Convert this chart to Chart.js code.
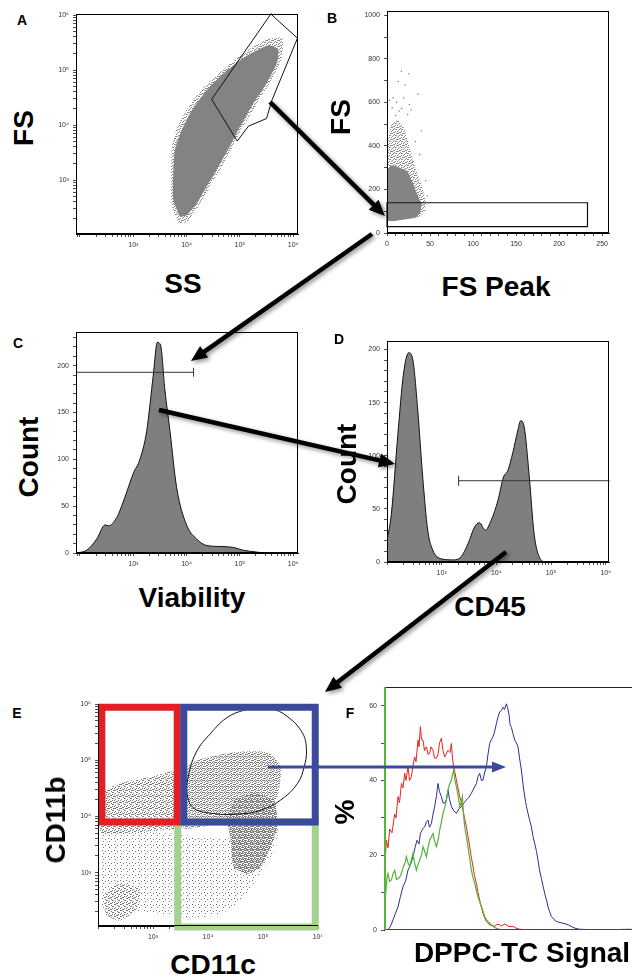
<!DOCTYPE html>
<html><head><meta charset="utf-8">
<script src="https://cdn.jsdelivr.net/npm/chart.js@4"></script>
<style>
html,body{margin:0;padding:0;background:#fff;width:632px;height:977px;overflow:hidden;position:relative;}
canvas{position:absolute;}
.t{position:absolute;font-family:"Liberation Sans",Arial,sans-serif;font-weight:bold;color:#000;white-space:nowrap;transform:translate(-50%,-50%);line-height:1;}
.big{font-size:28px;}
.rot{transform:translate(-50%,-50%) rotate(-90deg);}
.let{font-size:14px;}
</style></head><body>
<script>
// ================= DATA =================
const logTickExps = [3, 4, 5, 6];
const logTickLabels = ['10³', '10⁴', '10⁵', '10⁶'];
const fsPeakTickLabels = [0, 50, 100, 150, 200, 250];
const fsTickLabels = [0, 200, 400, 600, 800, 1000];
const countTickLabelsC = [0, 50, 100, 150, 200];
const countTickLabelsD = [0, 50, 100, 150, 200];
const pctTickLabels = [0, 20, 40, 60];

// Panel A: SS vs FS (values read as log10 exponents)
const ssFsCoreLog = [[3.88,2.33],[3.75,2.64],[3.75,3.12],[3.78,3.55],[3.91,3.91],[4.10,4.27],[4.38,4.64],[4.69,4.94],[5.00,5.18],[5.32,5.36],[5.56,5.45],[5.72,5.36],[5.69,5.12],[5.50,4.76],[5.25,4.39],[5.00,3.97],[4.81,3.61],[4.63,3.30],[4.41,2.94],[4.19,2.58],[4.00,2.36]];
const ssFsHaloLog = [[3.86,2.2],[3.72,2.55],[3.72,3.55],[3.82,3.95],[4.05,4.35],[4.35,4.72],[4.7,5.02],[5.0,5.26],[5.3,5.45],[5.55,5.57],[5.8,5.58],[5.78,5.2],[5.58,4.8],[5.32,4.39],[5.05,3.95],[4.86,3.6],[4.68,3.28],[4.45,2.9],[4.22,2.52],[4.02,2.25]];
const ssFsGateLog = [[5.58,6.02],[6.08,5.58],[5.60,4.45],[5.50,4.12],[5.16,3.98],[4.95,3.71],[4.47,4.47]];

// Panel B: FS Peak vs FS
const fsPeakCore = [[1,55],[1,290],[5,310],[15,300],[24,280],[30,230],[35,180],[40,130],[38,90],[32,70],[20,62],[8,55]];
const fsPeakHalo = [[0.5,55],[0.5,400],[5,500],[12,520],[20,480],[26,400],[33,300],[40,220],[45,150],[44,100],[38,75]];
const fsPeakSparse = [[16.6,743],[25.5,732],[12.8,696],[19.4,620],[36,638],[7,621],[17,572],[28,566],[10,540],[24,545],[33,420],[3,610],[30,330],[47,170],[40,470],[21,680],[11,600],[26,590],[14,560],[6,575],[45,240],[38,360]];
const fsPeakGate = [[0,29],[233,29],[233,139],[0,139]];

// Panel C: Viability histogram
const viabilityX = [84,134,206,295,340,490,700,1000,1330,1780,2370,2820,3250,3900,4880,6500,10000,15400,24000,42500,75000,115000,205000,316000,1230000];
const viabilityCount = [0,3,15,30,29,38,60,85,100,130,190,225,222,175,130,70,30,15,8,7,6,3,1,0,0];
const viabilityGate = [84, 13500];
const viabilityGateLevel = 193;

// Panel D: CD45 histogram
const cd45X = [100,120,158,200,250,295,365,450,555,690,980,1590,2270,3020,4000,4900,6300,8000,10700,13500,16200,20000,24700,27800,32300,39600,48900,60700,81000,1150000];
const cd45Count = [20,45,120,177,197,191,143,80,30,11,3,2,5,17,33,37,30,39,58,80,86,103,124,133,127,83,27,5,0,0];
const cd45Gate = [2040, 1150000];
const cd45GateLevel = 76.5;

// Panel E: CD11c vs CD11b (log10 exponents)
const cd11SparseLog = [[2.05,3.76],[3.3,3.7],[4.3,3.6],[5.26,3.81],[5.2,3.4],[4.9,2.9],[4.6,2.5],[4.2,2.25],[3.6,2.2],[2.9,2.3],[2.05,2.4]];
const cd11BandLeftLog = [[2.05,4.40],[2.35,4.58],[2.96,4.70],[3.50,4.80],[3.56,3.80],[3.26,3.76],[2.65,3.72],[2.05,3.72]];
const cd11BandRightLog = [[3.56,4.85],[3.87,5.02],[4.47,5.14],[5.08,5.14],[5.32,4.89],[5.26,4.35],[4.96,4.11],[4.47,3.93],[3.87,3.81],[3.56,3.80]];
const cd11BlobLog = [[4.47,4.29],[4.84,4.41],[5.20,4.29],[5.26,3.81],[5.14,3.46],[4.96,3.10],[4.72,2.98],[4.47,3.10],[4.41,3.58],[4.35,3.99]];
const cd11ClusterLog = [[2.1,2.6],[2.4,2.8],[2.75,2.7],[2.7,2.35],[2.4,2.15],[2.15,2.25]];
const cd11EllipseLog = [[4.78,5.93],[5.14,5.92],[5.44,5.78],[5.72,5.48],[5.79,5.18],[5.75,4.89],[5.63,4.59],[5.32,4.29],[4.96,4.11],[4.54,4.04],[4.11,4.05],[3.75,4.14],[3.63,4.35],[3.63,4.65],[3.78,5.13],[4.05,5.48],[4.38,5.78]];
const redGateLog = [[2.07,3.90],[3.44,3.90],[3.44,5.94],[2.07,5.94]];
const blueGateLog = [[3.56,3.90],[5.95,3.90],[5.95,5.94],[3.56,5.94]];
const greenGateLog = [[3.45,2.03],[5.95,2.03],[5.95,3.90],[3.45,3.90]];

// Panel F: DPPC-TC signal histograms [channel, %]
const dppcRed = [[0,0],[0.5,16],[2.4,24],[4,22],[5.7,27],[8,26],[10.7,31],[12,30],[14,35.7],[15.5,34],[17.4,39.2],[19,38],[20.7,41.9],[22,40],[24,43.7],[25.5,40],[27.4,41],[29,44],[30.7,46.3],[32,45],[34,50.8],[35,49],[36.4,54.4],[37.5,51],[39,50.8],[40.5,48],[42.4,49],[44,47],[45.7,47.3],[47,49],[49,48.1],[50.5,46],[52.4,45.9],[54,47],[55.5,50],[57.4,51.3],[59,48],[60.7,46.3],[62,47],[64,48.1],[66,47.5],[67.4,49.9],[68.5,46],[69.7,43.7],[71,42],[72.4,40.1],[74,38],[75.7,35.7],[77,34.5],[79,32.1],[80.5,30],[82.4,27.6],[84,25],[85.7,22.3],[87,20],[89,16.9],[90.5,14.5],[92.4,12.5],[94,10],[95.7,8],[97,6.5],[99,4.5],[101,3],[102.4,2.3],[104,1.8],[105.7,1.4],[108,1.2],[110.7,1],[113,1.5],[115.7,1.4],[118,1],[120,1.6],[122.4,1.4],[125,0.9],[129,1],[132,0.5],[135.7,0.2],[140,0.1],[145.7,0],[250,0]];
const dppcGreen = [[0,0],[0.5,10],[1.7,9.8],[3,14],[4,15.1],[5.5,13],[7.4,13.4],[9,15],[10.7,16],[12.5,13.5],[14,13.8],[15.5,14],[17.4,15.1],[19.5,17],[21,18],[22.4,19.6],[24,18],[25.7,17],[27.5,19],[29,20.5],[30.5,18],[32.4,16],[34,17.5],[35.7,18.7],[37.5,20],[39,22.3],[40.7,21],[42.4,19.6],[44,22],[45.7,24],[47.5,25],[49,25.8],[50.5,24],[52.4,22.3],[54,24],[55.7,26.7],[57.5,29],[59,31.2],[61,33],[62.5,35],[64,37.4],[65.5,39],[67.4,40.1],[68.5,41.5],[69.7,42.8],[71,40],[72.4,38.3],[74,36],[75.7,33],[77,34],[78.4,35.7],[79.5,31],[80.7,27.6],[82.4,25],[84,22.3],[85.7,19],[87.4,16],[89,14],[90.7,12.5],[92.4,10.5],[94,8.9],[95.7,7.5],[97.4,6.2],[99,5],[100.7,3.6],[102.4,2.8],[104,2.3],[106.5,1.6],[109,1],[112,0.5],[115.7,0.2],[125.7,0],[250,0]];
const dppcBlue = [[4,0],[6.5,1],[9,2.7],[11.5,4.5],[14,6.2],[16.5,9],[19,11.6],[21.5,13],[24,16],[26.5,17.5],[29,19.6],[31,22],[33,24],[35,23],[36.4,25.8],[38.5,27],[40.7,27.6],[42.5,29],[44,29.4],[45.5,27.5],[47.4,28.5],[49,31],[50.7,33],[52.5,36],[54,39.2],[55.5,37],[57.4,35.7],[59,34],[60.7,33.9],[62.5,35],[64,37.4],[65.5,35],[67.4,33],[69.5,32],[72.4,31.2],[75,32.5],[77.4,33],[80,34],[82.4,34.8],[85,35.5],[87.4,36.6],[90,38],[92.4,39.2],[94,41],[95.7,41.9],[97.5,40],[99,40.1],[100.5,42],[102.4,43.7],[104,47],[105.7,49.9],[107.5,51],[109,51.7],[110.5,53],[112.4,55.2],[114,57],[115.7,58.3],[117.5,58.8],[119,59.6],[120.5,59],[122.4,60.5],[123.5,59.5],[125,57.7],[126,55],[127.4,54.2],[129,52.5],[130.7,50.8],[132.5,50],[134,49],[135.5,46],[137.4,42.8],[139,39],[140.7,35.7],[142.5,33],[144,31.2],[145.5,29.5],[147.4,27.6],[149,25],[150.7,23.2],[152.5,21],[154,18.7],[155.5,16],[157.4,13.8],[159,11.8],[160.7,9.8],[162.5,8],[164,6.2],[165.5,5],[167.4,3.6],[170,2.8],[172.4,2.3],[176,2],[179,1.8],[182,1.6],[184,1.4],[187,1],[189,0.7],[192,0.4],[195.7,0.2],[205,0.1],[212.4,0],[230,0.1],[245.7,0.2],[250,0.1]];

// ================= LAYOUT (annotations) =================
const arrows = [
  {from:[270,102], to:[385,216], color:'#000', w:4.5, head:16, hw:7, shadow:true},
  {from:[372,234], to:[191,361], color:'#000', w:4.5, head:16, hw:7, shadow:true},
  {from:[159,410], to:[395,464], color:'#000', w:4.5, head:16, hw:7, shadow:true},
  {from:[506,552], to:[325,692], color:'#000', w:4.5, head:16, hw:7, shadow:true},
  {from:[268,767], to:[506,767], color:'#3b4a9c', w:3.2, head:14, hw:5.5, shadow:false}
];
const texts = [
  ['A',22,20,'let',false],['FS',24,128,'big',true],['SS',183,284,'big',false],
  ['B',332,18,'let',false],['FS',341,117,'big',true],['FS Peak',496,287,'big',false],
  ['C',18,343,'let',false],['Count',29,457,'big',true],['Viability',192,598,'big',false],
  ['D',339,339,'let',false],['Count',347,464,'big',true],['CD45',490,607,'big',false],
  ['E',17,713,'let',false],['CD11b',56,820,'big',true],['CD11c',213,965,'big',false],
  ['F',350,713,'let',false],['%',345,812,'big',true],['DPPC-TC Signal',522,953,'big',false]
];
// fixed stipple layout inside a 6x6 tile (texture for dense dot clouds)
const stippleOrder = [[0,0],[3,1],[1,3],[4,4],[2,5],[5,2],[1,0],[4,2],[0,4],[3,5],[5,0],[2,2],[0,2],[3,3],[5,4],[1,5],[4,0],[2,1],[0,5],[5,3],[2,3],[4,5],[1,2],[3,0]];

// ================= HELPERS =================
const pts = a => a.map(([x, y]) => ({x, y}));
const logPts = a => a.map(([x, y]) => ({x: Math.pow(10, x), y: Math.pow(10, y)}));
const closed = a => a.concat([a[0]]);
const zip = (xs, ys) => xs.map((x, i) => ({x, y: ys[i]}));
const TICKFONT = {family: 'Liberation Sans, DejaVu Sans, sans-serif', size: 7};

function stipple(n, color) {
  const t = document.createElement('canvas'); t.width = 6; t.height = 6;
  const c = t.getContext('2d'); c.fillStyle = color;
  stippleOrder.slice(0, n).forEach(([x, y]) => c.fillRect(x, y, 1, 1));
  return c.createPattern(t, 'repeat');
}
function logTickList(min, max) {
  const out = [];
  for (let e = Math.floor(Math.log10(min)); e <= Math.ceil(Math.log10(max)); e++)
    for (let m = 1; m < 10; m++) { const v = m * Math.pow(10, e); if (v >= min * 0.9999 && v <= max * 1.0001) out.push({value: v}); }
  return out;
}
function logLabel(v) {
  const e = Math.log10(v), r = Math.round(e);
  if (Math.abs(e - r) < 1e-6) { const i = logTickExps.indexOf(r); return i >= 0 ? logTickLabels[i] : ''; }
  return '';
}
function linTickList(min, max, step) {
  const out = []; for (let v = min; v <= max + 1e-9; v += step) out.push({value: v}); return out;
}

function scale(axis, type, min, max, step, labels, YW, XH, extra) {
  const s = {
    type, min, max, position: axis === 'x' ? 'bottom' : 'left',
    afterBuildTicks: sc => { sc.ticks = type === 'logarithmic' ? logTickList(min, max) : linTickList(0, max, step); },
    afterFit: sc => {
      if (axis === 'x') { sc.height = XH; sc.paddingLeft = 0; sc.paddingRight = 0; }
      else { sc.width = YW; sc.paddingTop = 0; sc.paddingBottom = 0; }
    },
    grid: {display: true, drawOnChartArea: false, drawTicks: true, tickLength: 3, color: '#222', lineWidth: 0.8},
    border: {display: true, color: '#000', width: 1},
    ticks: {autoSkip: false, maxRotation: 0, minRotation: 0, padding: 4, font: TICKFONT, color: '#333',
      callback: v => type === 'logarithmic' ? logLabel(v) : (labels.indexOf(v) >= 0 ? String(v) : '')}
  };
  return Object.assign(s, extra || {});
}

const framePlugin = {
  id: 'frame',
  afterDatasetsDraw(ch, args, o) {
    const {left, top, right, bottom} = ch.chartArea, c = ch.ctx;
    (o.sides || []).forEach(sd => {
      c.save(); c.strokeStyle = sd.color || '#000'; c.lineWidth = sd.w || 1; c.beginPath();
      if (sd.s === 't') { c.moveTo(left, top + 0.5); c.lineTo(right, top + 0.5); }
      if (sd.s === 'r') { c.moveTo(right - 0.5, top); c.lineTo(right - 0.5, bottom); }
      if (sd.s === 'b') { c.moveTo(left, bottom - 0.5); c.lineTo(right, bottom - 0.5); }
      if (sd.s === 'l') { c.moveTo(left + 0.5 * (sd.w || 1), top); c.lineTo(left + 0.5 * (sd.w || 1), bottom); }
      c.stroke(); c.restore();
    });
  }
};
const box4 = [{s:'t'},{s:'r'},{s:'b'},{s:'l'}];

function panel(b, xs, ys, datasets, sides) {
  const YW = 32, XH = 20, PT = 4, PR = 4;
  const c = document.createElement('canvas');
  const w = b.R - b.L + YW + PR, h = b.B - b.T + PT + XH;
  c.width = w; c.height = h;
  c.style.left = (b.L - YW) + 'px'; c.style.top = (b.T - PT) + 'px';
  c.style.width = w + 'px'; c.style.height = h + 'px';
  document.body.appendChild(c);
  const n = datasets.length;
  datasets.forEach((d, i) => { d.order = n - i; });
  new Chart(c, {
    type: 'line',
    data: {datasets},
    options: {
      responsive: false, animation: false, events: [], devicePixelRatio: 1,
      layout: {padding: {top: PT, right: PR, left: 0, bottom: 0}},
      scales: {x: xs(YW, XH), y: ys(YW, XH)},
      plugins: {legend: {display: false}, tooltip: {enabled: false}, frame: {sides}},
      elements: {point: {radius: 0}}
    },
    plugins: [framePlugin]
  });
}
function poly(data, fillColor, tension) {
  return {data: closed(data), fill: 'shape', backgroundColor: fillColor, borderColor: 'rgba(0,0,0,0)', borderWidth: 0, pointRadius: 0, tension: tension === undefined ? 0.2 : tension};
}
function outline(data, color, width, tension, isClosed) {
  return {data: isClosed ? closed(data) : data, fill: false, borderColor: color, borderWidth: width, pointRadius: 0, tension: tension || 0, borderJoinStyle: 'miter', borderCapStyle: 'square', clip: false};
}
function hist(xs, ys) {
  return {data: zip(xs, ys), fill: 'origin', backgroundColor: '#7f7f7f', borderColor: '#111', borderWidth: 1, pointRadius: 0, cubicInterpolationMode: 'monotone'};
}

// ================= PANELS =================
// A
panel({L:76, T:14, R:298, B:234},
  (Y, X) => scale('x', 'logarithmic', Math.pow(10,1.925), Math.pow(10,6.09), 0, null, Y, X),
  (Y, X) => scale('y', 'logarithmic', Math.pow(10,2.02), Math.pow(10,6.02), 0, null, Y, X),
  [poly(logPts(ssFsHaloLog), stipple(12, '#8a8a8a')),
   poly(logPts(ssFsCoreLog), '#838383'),
   outline(logPts(ssFsGateLog), '#111', 1, 0, true)],
  box4);

// B
panel({L:387, T:11, R:609, B:233},
  (Y, X) => scale('x', 'linear', 0, 258, 10, fsPeakTickLabels, Y, X),
  (Y, X) => scale('y', 'linear', 0, 1020, 100, fsTickLabels, Y, X),
  [poly(pts(fsPeakHalo), stipple(12, '#8a8a8a')),
   poly(pts(fsPeakCore), '#848484'),
   {data: pts(fsPeakSparse), showLine: false, pointRadius: 0.8, pointBackgroundColor: '#888', pointBorderWidth: 0},
   outline(pts(fsPeakGate), '#111', 1.2, 0, true)],
  box4);

// C
panel({L:76, T:332, R:298, B:553},
  (Y, X) => scale('x', 'logarithmic', Math.pow(10,1.925), Math.pow(10,6.09), 0, null, Y, X),
  (Y, X) => scale('y', 'linear', 0, 236, 10, countTickLabelsC, Y, X),
  [hist(viabilityX, viabilityCount),
   outline([{x: viabilityGate[0], y: viabilityGateLevel}, {x: viabilityGate[1], y: viabilityGateLevel}], '#333', 1),
   outline([{x: viabilityGate[1], y: viabilityGateLevel - 4.5}, {x: viabilityGate[1], y: viabilityGateLevel + 4.5}], '#333', 1)],
  box4);

// D
panel({L:387, T:341, R:609, B:562},
  (Y, X) => scale('x', 'logarithmic', 100, Math.pow(10,6.06), 0, null, Y, X),
  (Y, X) => scale('y', 'linear', 0, 208, 10, countTickLabelsD, Y, X),
  [hist(cd45X, cd45Count),
   outline([{x: cd45Gate[0], y: cd45GateLevel}, {x: cd45Gate[1], y: cd45GateLevel}], '#333', 1),
   outline([{x: cd45Gate[0], y: cd45GateLevel - 4.5}, {x: cd45Gate[0], y: cd45GateLevel + 4.5}], '#333', 1)],
  box4);

// E
panel({L:98, T:704, R:318, B:926},
  (Y, X) => scale('x', 'logarithmic', 100, 1e6, 0, null, Y, X),
  (Y, X) => scale('y', 'logarithmic', Math.pow(10,2.05), 1e6, 0, null, Y, X),
  [poly(logPts(cd11SparseLog), stipple(3, '#777')),
   poly(logPts(cd11ClusterLog), stipple(10, '#777')),
   poly(logPts(cd11BandLeftLog), stipple(11, '#7a7a7a')),
   poly(logPts(cd11BandRightLog), stipple(14, '#7a7a7a')),
   poly(logPts(cd11BlobLog), stipple(22, '#7d7d7d')),
   outline(logPts(cd11EllipseLog), '#111', 1, 0.4, true),
   outline(logPts(greenGateLog), '#a5d18e', 7, 0, true),
   outline(logPts(redGateLog), '#e31e24', 7, 0, true),
   outline(logPts(blueGateLog), '#3b4a9c', 7, 0, true)],
  [{s:'l'}, {s:'b'}]);

// F
panel({L:384, T:687, R:634, B:930},
  (Y, X) => scale('x', 'linear', 0, 250, 10, [], Y, X, {grid: {display: false}, ticks: {display: false}, border: {display: false}}),
  (Y, X) => scale('y', 'linear', 0, 65, 10, pctTickLabels, Y, X),
  [{data: pts(dppcBlue), borderColor: '#2d2d96', borderWidth: 1, pointRadius: 0, fill: false, tension: 0},
   {data: pts(dppcRed), borderColor: '#e8231f', borderWidth: 1, pointRadius: 0, fill: false, tension: 0},
   {data: pts(dppcGreen), borderColor: '#55b43a', borderWidth: 1.2, pointRadius: 0, fill: false, tension: 0}],
  [{s:'t', color:'#222'}, {s:'b', color:'#444'}, {s:'l', color:'#55b43a', w:2}]);

// ================= TEXT =================
texts.forEach(([s, x, y, cls, rot]) => {
  const d = document.createElement('div');
  d.className = 't ' + cls + (rot ? ' rot' : '');
  d.textContent = s; d.style.left = x + 'px'; d.style.top = y + 'px';
  document.body.appendChild(d);
});

// ================= ARROWS OVERLAY =================
function drawArrow(ctx, a) {
  const [x1, y1] = a.from, [x2, y2] = a.to;
  const ang = Math.atan2(y2 - y1, x2 - x1);
  const bx = x2 - a.head * Math.cos(ang), by = y2 - a.head * Math.sin(ang);
  ctx.save();
  if (a.shadow) { ctx.shadowColor = 'rgba(0,0,0,0.45)'; ctx.shadowBlur = 4; ctx.shadowOffsetX = 2; ctx.shadowOffsetY = 2; }
  ctx.strokeStyle = a.color; ctx.fillStyle = a.color; ctx.lineWidth = a.w;
  ctx.beginPath(); ctx.moveTo(x1, y1); ctx.lineTo(bx + Math.cos(ang), by + Math.sin(ang)); ctx.stroke();
  ctx.beginPath(); ctx.moveTo(x2, y2);
  ctx.lineTo(bx + a.hw * Math.sin(ang), by - a.hw * Math.cos(ang));
  ctx.lineTo(bx - a.hw * Math.sin(ang), by + a.hw * Math.cos(ang));
  ctx.closePath(); ctx.fill();
  ctx.restore();
}
const ov = document.createElement('canvas');
ov.width = 632; ov.height = 977;
ov.style.left = '0px'; ov.style.top = '0px'; ov.style.width = '632px'; ov.style.height = '977px';
ov.style.zIndex = 10; ov.style.pointerEvents = 'none';
document.body.appendChild(ov);
new Chart(ov, {
  type: 'scatter', data: {datasets: []},
  options: {responsive: false, animation: false, events: [], devicePixelRatio: 1,
    scales: {x: {display: false}, y: {display: false}},
    plugins: {legend: {display: false}, tooltip: {enabled: false}}},
  plugins: [{id: 'arrows', afterDraw(ch) { arrows.forEach(a => drawArrow(ch.ctx, a)); }}]
});
</script>
</body></html>
